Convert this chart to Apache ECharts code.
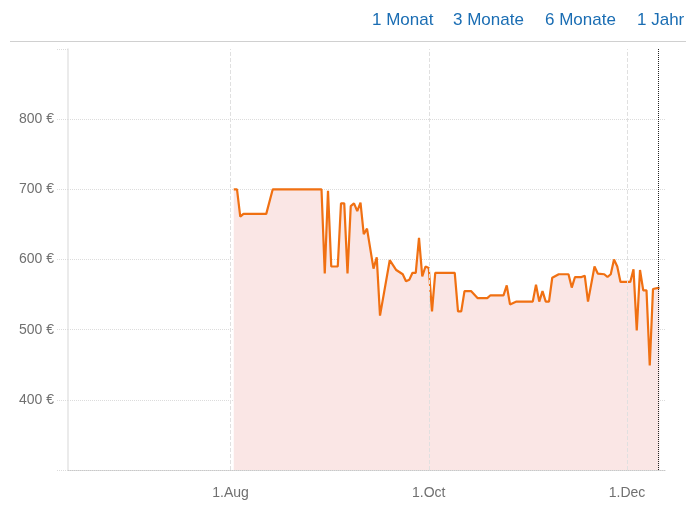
<!DOCTYPE html>
<html>
<head>
<meta charset="utf-8">
<script src="https://cdn.jsdelivr.net/npm/echarts@6/dist/echarts.min.js"></script>
<style>
html,body{margin:0;padding:0;background:#fff;}
#c{width:696px;height:507px;}
</style>
</head>
<body>
<div id="c"></div>
<script>
const dates = ['2014-08-02','2014-08-03','2014-08-04','2014-08-05','2014-08-12','2014-08-14','2014-08-29','2014-08-30','2014-08-31',
'2014-09-01','2014-09-03','2014-09-04','2014-09-05','2014-09-06','2014-09-07','2014-09-08','2014-09-09','2014-09-10','2014-09-11','2014-09-12','2014-09-14','2014-09-15','2014-09-16','2014-09-19','2014-09-21','2014-09-23','2014-09-24','2014-09-25','2014-09-26','2014-09-27','2014-09-28','2014-09-29','2014-09-30',
'2014-10-01','2014-10-02','2014-10-03','2014-10-09','2014-10-10','2014-10-11','2014-10-12','2014-10-14','2014-10-16','2014-10-19','2014-10-20','2014-10-24','2014-10-25','2014-10-26','2014-10-27','2014-10-28',
'2014-11-02','2014-11-03','2014-11-04','2014-11-05','2014-11-06','2014-11-07','2014-11-08','2014-11-10','2014-11-13','2014-11-14','2014-11-15','2014-11-17','2014-11-18','2014-11-19','2014-11-21','2014-11-22','2014-11-24','2014-11-25','2014-11-26','2014-11-27','2014-11-28','2014-11-29',
'2014-12-02','2014-12-03','2014-12-04','2014-12-05','2014-12-06','2014-12-07','2014-12-08','2014-12-09','2014-12-11'];
const prices = [700,700,661,665,665,700,700,580,698,
590,590,680,680,580,676,680,669,681,636,644,587,603,520,599,585,579,569,571,581,581,631,576,590,
588,526,581,581,526,526,555,555,545,545,549,549,563,536,538,540,
540,564,540,555,540,540,574,579,579,560,575,575,577,540,590,580,579,575,579,600,590,568,
568,586,499,585,556,556,449,558,560];
const tickDates = ['2014-08-01','2014-10-01','2014-12-01'];
const tickLabels = ['1.Aug','1.Oct','1.Dec'];
const yTicks = [400,500,600,700,800];
const rangeLinks = ['1 Monat','3 Monate','6 Monate','1 Jahr'];
const todayMark = '2014-12-10T12:00:00';

const ts = s => +new Date(s.length === 10 ? s + 'T00:00:00' : s);
const tickTs = tickDates.map(ts);
const seriesData = dates.map((d, i) => [ts(d), prices[i]]);

const linkX = [372, 453, 545, 637];
const graphics = rangeLinks.map((t, i) => ({
  type: 'text', left: linkX[i], top: 12,
  style: { text: t, fill: '#1a6db3', font: '17px "Liberation Sans", Arial, sans-serif' }
}));
graphics.push({ type: 'line', shape: { x1: 10, y1: 41.5, x2: 686, y2: 41.5 }, style: { stroke: '#d0d0d0', lineWidth: 1 } });

const chart = echarts.init(document.getElementById('c'), null, { renderer: 'canvas' });
chart.setOption({
  animation: false,
  graphic: graphics,
  grid: { left: 68, right: 30, top: 49, bottom: 37, containLabel: false },
  xAxis: {
    type: 'value',
    min: ts('2014-06-12'),
    max: ts('2014-12-13'),
    axisLine: { show: true, lineStyle: { color: '#c8c8c8', type: 'dotted', width: 1 } },
    axisTick: { show: false },
    splitLine: { show: false },
    axisLabel: {
      customValues: tickTs,
      color: '#707070', fontSize: 14, margin: 16,
      fontFamily: '"Liberation Sans", Arial, sans-serif',
      formatter: function (v) {
        const i = tickTs.indexOf(v);
        return i >= 0 ? tickLabels[i] : '';
      }
    }
  },
  yAxis: {
    type: 'value', min: 300, max: 900, interval: 100,
    axisLine: { show: true, lineStyle: { color: '#e4e4e4', width: 1.5 } },
    axisTick: { show: true, length: 12, lineStyle: { color: '#dcdcdc', type: 'dotted' } },
    splitLine: { show: true, showMaxLine: false, lineStyle: { color: '#dcdcdc', type: 'dotted' } },
    axisLabel: {
      color: '#707070', fontSize: 14, margin: 14,
      fontFamily: '"Liberation Sans", Arial, sans-serif',
      formatter: function (v) { return yTicks.indexOf(v) >= 0 ? v + ' €' : ''; }
    }
  },
  series: [{
    type: 'line',
    data: seriesData,
    showSymbol: false,
    symbol: 'none',
    lineStyle: { color: '#f07012', width: 2.2 },
    areaStyle: { color: '#fae6e5', opacity: 1 },
    markLine: {
      silent: true, symbol: 'none', animation: false,
      label: { show: false },
      data: tickDates.map(d => ({ xAxis: ts(d), lineStyle: { color: '#e0e0e0', type: 'dashed', width: 1 } }))
        .concat([{ xAxis: ts(todayMark), lineStyle: { color: '#222', type: 'dotted', width: 1 } }])
    }
  }]
});
</script>
</body>
</html>
